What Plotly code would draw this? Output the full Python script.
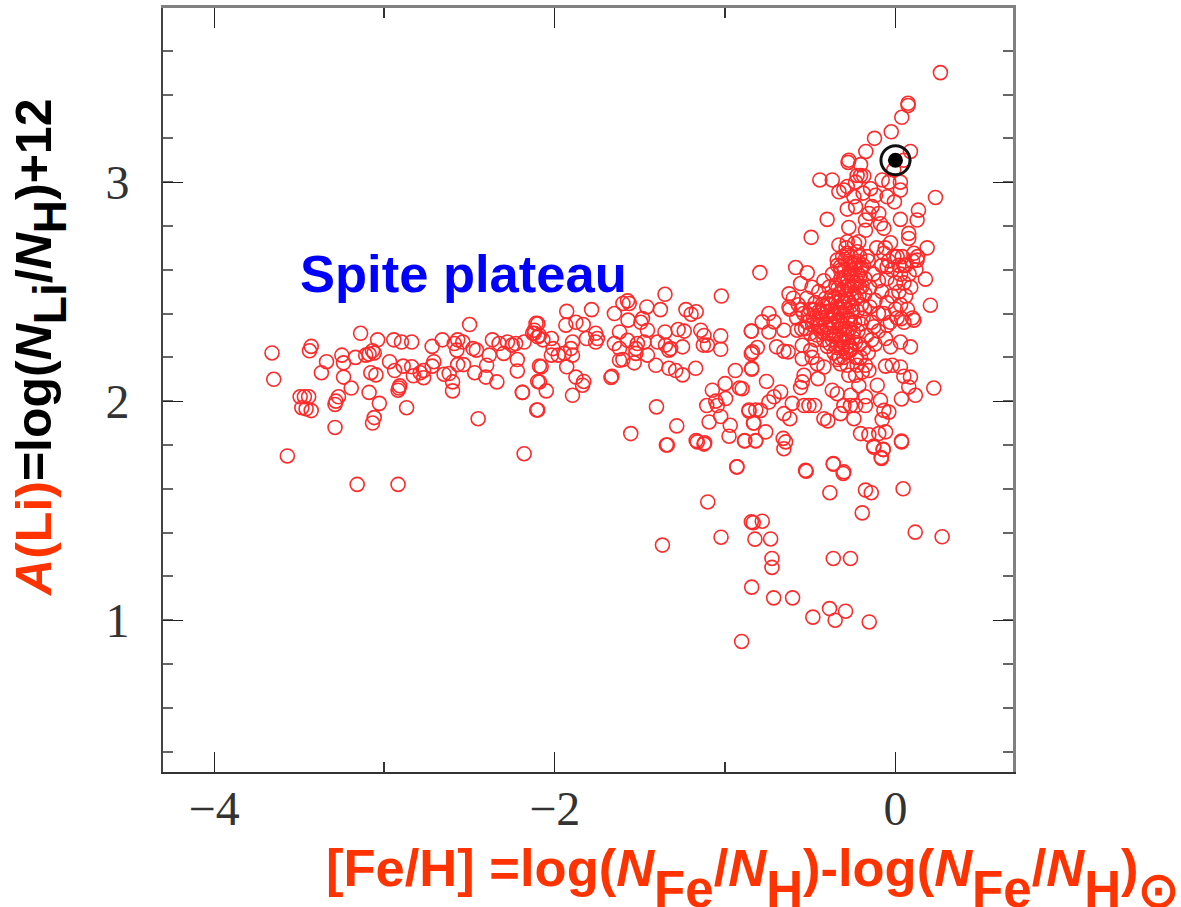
import plotly.graph_objects as go

# (Fe/H, A(Li)) readings per region of the diagram
plateau_far = [(-3.66,2.22),(-3.65,2.10),(-3.43,2.25),(-3.44,2.23),(-3.34,2.18),(-3.37,2.13),(-3.25,2.21),(-3.24,2.175),(-3.24,2.11),(-3.195,2.06),(-3.27,2.02),(-3.285,2.0),(-3.29,1.985),(-3.495,2.02),(-3.47,2.02),(-3.445,2.02),(-3.485,1.97),(-3.46,1.965),(-3.43,1.957),(-3.29,1.88),(-3.57,1.75),(-3.16,1.62),(-2.92,1.62),(-3.14,2.31),(-3.04,2.28),(-2.945,2.28),(-2.90,2.27),(-2.84,2.27),(-3.17,2.20),(-3.11,2.21),(-3.09,2.215),(-3.07,2.23),(-3.06,2.22),(-3.08,2.13),(-3.05,2.12),(-2.97,2.18),(-2.94,2.14),(-2.89,2.16),(-2.84,2.157),(-2.83,2.116),(-3.09,2.04),(-3.03,1.99),(-2.87,1.97),(-3.06,1.925),(-3.07,1.90),(-2.91,2.07),(-2.92,2.05),(-2.915,2.06)]
plateau_mid = [(-2.77,2.14),(-2.77,2.107),(-2.79,2.13),(-2.72,2.16),(-2.71,2.18),(-2.65,2.123),(-2.60,2.088),(-2.60,2.047),(-2.62,2.126),(-2.72,2.25),(-2.66,2.28),(-2.57,2.28),(-2.54,2.27),(-2.575,2.233),(-2.59,2.263),(-2.57,2.167),(-2.536,2.167),(-2.47,2.13),(-2.46,2.233),(-2.48,2.24),(-2.385,2.21),(-2.40,2.164),(-2.405,2.11),(-2.34,2.088),(-2.366,2.28),(-2.327,2.263),(-2.278,2.27),(-2.23,2.263),(-2.30,2.218),(-2.25,2.256),(-2.22,2.19),(-2.22,2.138),(-2.19,2.04),(-2.50,2.35),(-2.45,1.92),(-2.18,1.76),(-2.11,2.355),(-2.13,2.31),(-2.10,2.294),(-2.09,2.16),(-2.10,2.09),(-2.106,1.96),(-2.18,2.27),(-2.12,2.324)]
plateau_near = [(-2.10,2.354),(-2.12,2.31),(-2.09,2.30),(-2.07,2.28),(-2.02,2.286),(-2.01,2.24),(-2.02,2.21),(-1.98,2.21),(-1.945,2.218),(-1.896,2.27),(-1.906,2.24),(-1.896,2.21),(-1.93,2.157),(-2.08,2.157),(-2.09,2.088),(-2.05,2.047),(-2.19,2.04),(-2.10,1.96),(-1.876,2.11),(-1.83,2.09),(-1.837,2.073),(-1.896,2.027),(-1.93,2.41),(-1.784,2.418),(-1.935,2.347),(-1.876,2.36),(-1.833,2.35),(-1.814,2.286),(-1.76,2.31),(-1.75,2.286),(-1.76,2.27),(-1.65,2.40),(-1.60,2.446),(-1.573,2.458),(-1.563,2.446),(-1.57,2.37),(-1.46,2.43),(-1.485,2.377),(-1.495,2.36),(-1.38,2.418),(-1.353,2.488),(-1.62,2.316),(-1.65,2.263),(-1.62,2.24),(-1.515,2.263),(-1.524,2.24),(-1.476,2.27),(-1.456,2.324),(-1.573,2.278),(-1.60,2.19),(-1.62,2.187),(-1.534,2.175),(-1.524,2.218),(-1.456,2.21),(-1.407,2.164),(-1.397,2.27),(-1.353,2.316),(-1.35,2.256),(-1.33,2.233),(-1.32,2.24),(-1.25,2.248),(-1.276,2.327),(-1.24,2.32),(-1.33,2.15),(-1.29,2.14),(-1.25,2.12),(-1.173,2.15),(-1.665,2.114),(-1.67,2.108),(-1.23,2.418),(-1.20,2.397),(-1.17,2.408),(-1.143,2.324),(-1.124,2.30),(-1.128,2.256),(-1.104,2.256),(-1.026,2.298),(-1.026,2.237),(-1.022,2.48),(-1.403,1.974),(-1.284,1.887),(-1.554,1.852),(-1.345,1.80),(-1.17,1.82),(-1.12,1.81)]
gap_stars = [(-0.94,2.14),(-0.915,2.06),(-0.844,2.15),(-0.846,2.32),(-0.84,2.225),(-1.0,2.08),(-1.075,2.05),(-1.108,1.98),(-1.055,2.0),(-0.997,2.012),(-1.046,1.98),(-1.026,1.93),(-1.094,1.905),(-0.97,1.89),(-0.977,1.84),(-0.885,1.82),(-0.82,1.82),(-0.93,1.70),(-0.86,1.96),(-0.82,1.96),(-0.834,1.90)]
top_stars = [(0.264,3.5),(0.074,3.36),(0.074,3.35),(0.037,3.296),(-0.025,3.23),(-0.123,3.2),(-0.174,3.14),(0.088,3.14),(-0.274,3.10),(-0.278,3.09),(-0.444,3.01),(-0.371,3.01),(-0.205,3.08),(-0.078,3.01),(0.235,2.93),(-0.332,2.956),(-0.283,2.98),(-0.234,3.0),(-0.205,3.03),(-0.244,2.933),(-0.283,2.877),(-0.401,2.83),(-0.495,2.748),(0.029,2.964),(-0.049,2.933),(-0.006,2.91),(-0.117,2.94),(0.135,2.872),(0.127,2.827),(0.029,2.83),(-0.098,2.857),(-0.156,2.857),(-0.176,2.827),(-0.274,2.793),(-0.068,2.789),(0.078,2.766),(0.078,2.743),(-0.029,2.723),(0.186,2.70),(-0.176,2.78),(-0.332,2.713),(-0.283,2.728),(-0.215,2.728),(-0.068,2.675),(0.01,2.66),(0.108,2.675),(0.127,2.644),(-0.342,2.644),(-0.283,2.675),(-0.225,2.682),(-0.166,2.66),(-0.323,2.614),(-0.244,2.63),(-0.049,2.614),(0.049,2.62),(-0.205,2.60),(0.049,3.10),(-0.01,3.055),(-0.039,3.0),(0.029,3.0),(-0.225,3.03),(-0.186,3.028),(-0.303,2.964),(-0.234,2.888),(-0.137,2.888),(-0.088,2.81),(-0.146,2.97),(-0.19,2.95)]
disk_edge = [(-0.796,2.587),(-0.586,2.61),(-0.518,2.586),(-0.557,2.537),(-0.625,2.49),(-0.625,2.43),(-0.743,2.40),(-0.846,2.32),(-0.782,2.362),(-0.713,2.362),(-0.743,2.316),(-0.655,2.324),(-0.577,2.324),(-0.811,2.245),(-0.846,2.217),(-0.844,2.146),(-0.698,2.248),(-0.655,2.228),(-0.63,2.225),(-0.547,2.255),(-0.547,2.194),(-0.489,2.20),(-0.498,2.232),(-0.459,2.17),(-0.42,2.156),(-0.537,2.118),(-0.547,2.088),(-0.557,2.062),(-0.455,2.103),(-0.757,2.09),(-0.90,2.057),(-0.674,2.042),(-0.713,2.02),(-0.606,1.99),(-0.537,1.98),(-0.508,1.98),(-0.475,1.98),(-0.743,1.996),(-0.792,1.958),(-0.86,1.954),(-0.831,1.90),(-0.762,1.86),(-0.821,1.818),(-0.886,1.818),(-0.655,1.943),(-0.62,1.92),(-0.659,1.83),(-0.645,1.814),(-0.655,1.783),(-0.528,1.684),(-0.365,1.715),(-0.303,1.677),(-0.42,1.92),(-0.397,1.91),(-0.371,2.05),(-0.342,2.034),(-0.323,1.943),(-0.303,1.98),(-0.264,1.98),(-0.264,2.027),(-0.234,1.98),(-0.244,1.92),(-0.215,2.07),(-0.274,2.118),(-0.176,2.02),(-0.176,1.98),(-0.205,1.852),(-0.156,1.847),(-0.107,2.073),(-0.088,2.004),(-0.068,1.958),(-0.039,1.95),(-0.078,1.916),(-0.058,1.86),(-0.098,1.852),(-0.127,1.79),(-0.072,1.78),(-0.082,1.738),(0.035,1.818),(0.035,2.01),(0.117,2.027),(0.078,2.065),(0.225,2.06),(0.088,2.11),(0.049,2.114),(0.029,2.156),(-0.019,2.164),(-0.058,2.16),(0.088,2.248),(0.029,2.27),(-0.029,2.248),(-0.058,2.286),(0.108,2.37),(0.035,2.377),(-0.049,2.346),(-0.127,2.34),(0.205,2.438),(0.176,2.557),(-0.186,2.24),(-0.176,2.164),(-0.225,2.164),(-0.156,2.14),(-0.234,2.118),(-0.195,2.133),(-0.283,2.164),(-0.323,2.17),(-0.342,2.19),(-0.205,2.20),(-0.264,2.232),(-0.313,2.248),(-0.303,2.20)]
disk_core_metal_poor = [(-0.62,2.42),(-0.6,2.47),(-0.58,2.38),(-0.57,2.44),(-0.55,2.33),(-0.54,2.40),(-0.52,2.47),(-0.52,2.36),(-0.5,2.42),(-0.5,2.31),(-0.49,2.52),(-0.48,2.38),(-0.47,2.45),(-0.47,2.28),(-0.46,2.35),(-0.45,2.41),(-0.45,2.50),(-0.44,2.32),(-0.43,2.44),(-0.43,2.38),(-0.42,2.28),(-0.42,2.55),(-0.41,2.47),(-0.41,2.35),(-0.4,2.41),(-0.4,2.25),(-0.39,2.52),(-0.39,2.31),(-0.38,2.44),(-0.38,2.37),(-0.37,2.58),(-0.37,2.48),(-0.37,2.28),(-0.36,2.40),(-0.36,2.34),(-0.36,2.22),(-0.35,2.53),(-0.35,2.45),(-0.35,2.3),(-0.34,2.62),(-0.34,2.37),(-0.34,2.26),(-0.33,2.49),(-0.33,2.42),(-0.33,2.33),(-0.33,2.2),(-0.32,2.56),(-0.32,2.46),(-0.32,2.28),(-0.31,2.66),(-0.31,2.39),(-0.31,2.35),(-0.31,2.24),(-0.3,2.6),(-0.3,2.52),(-0.3,2.43),(-0.3,2.3),(-0.29,2.7),(-0.29,2.48),(-0.29,2.22),(-0.28,2.63),(-0.28,2.55),(-0.28,2.38),(-0.28,2.27),(-0.27,2.45),(-0.27,2.33),(-0.26,2.66),(-0.26,2.58),(-0.26,2.51),(-0.26,2.24),(-0.25,2.41),(-0.25,2.29),(-0.24,2.72),(-0.24,2.62),(-0.24,2.54),(-0.24,2.36),(-0.23,2.47),(-0.23,2.2),(-0.22,2.58),(-0.22,2.32),(-0.21,2.66),(-0.21,2.52),(-0.21,2.26),(-0.2,2.44),(-0.2,2.61),(-0.19,2.38),(-0.18,2.56),(-0.18,2.49),(-0.17,2.3),(-0.16,2.64),(-0.15,2.43),(-0.15,2.52),(-0.14,2.36),(-0.13,2.58),(-0.12,2.46),(-0.11,2.7),(-0.1,2.4),(-0.1,2.55)]
disk_core_dense = [(-0.445,2.345),(-0.438,2.405),(-0.425,2.312),(-0.418,2.432),(-0.405,2.385),(-0.398,2.335),(-0.392,2.445),(-0.385,2.262),(-0.376,2.412),(-0.372,2.352),(-0.365,2.298),(-0.358,2.472),(-0.352,2.388),(-0.346,2.245),(-0.342,2.425),(-0.338,2.515),(-0.332,2.288),(-0.326,2.362),(-0.322,2.598),(-0.318,2.405),(-0.314,2.508),(-0.308,2.268),(-0.305,2.448),(-0.302,2.565),(-0.298,2.332),(-0.294,2.648),(-0.288,2.415),(-0.284,2.305),(-0.282,2.525),(-0.278,2.462),(-0.272,2.585),(-0.268,2.252),(-0.265,2.372),(-0.262,2.628),(-0.256,2.438),(-0.252,2.545),(-0.248,2.315),(-0.244,2.488),(-0.238,2.605),(-0.235,2.268),(-0.228,2.552),(-0.224,2.412),(-0.218,2.638),(-0.214,2.482),(-0.208,2.572),(-0.202,2.352),(-0.196,2.525),(-0.188,2.618),(-0.182,2.422),(-0.552,2.418),(-0.528,2.332),(-0.512,2.392),(-0.486,2.348),(-0.478,2.418),(-0.462,2.302),(-0.455,2.372)]
disk_core_metal_rich = [(-0.08,2.62),(-0.08,2.5),(-0.07,2.4),(-0.06,2.7),(-0.05,2.56),(-0.05,2.45),(-0.04,2.64),(-0.03,2.36),(-0.02,2.6),(-0.02,2.48),(-0.01,2.66),(0,2.54),(0,2.42),(0.01,2.38),(0.02,2.62),(0.02,2.5),(0.03,2.58),(0.03,2.44),(0.04,2.66),(0.05,2.36),(0.05,2.54),(0.06,2.48),(0.06,2.62),(0.07,2.42),(0.08,2.58),(0.09,2.52),(0.1,2.64),(0.1,2.38),(0.12,2.6),(0.13,2.66),(-0.14,2.28),(-0.12,2.26),(-0.1,2.32),(-0.16,2.22)]
depleted_stars = [(-1.339,1.80),(-1.163,1.814),(-1.124,1.804),(-0.932,1.70),(-0.524,1.68),(-0.365,1.712),(-0.307,1.67),(-0.385,1.582),(-0.176,1.594),(-0.142,1.582),(0.045,1.60),(-0.195,1.49),(-0.084,1.743),(-0.072,1.779),(-0.127,1.795),(0.036,1.814),(-1.102,1.54),(-0.846,1.449),(-0.835,1.445),(-0.782,1.452),(-1.024,1.379),(-0.825,1.37),(-0.733,1.371),(-1.368,1.343),(-0.725,1.282),(-0.725,1.241),(-0.365,1.282),(-0.264,1.282),(0.116,1.402),(0.274,1.381),(-0.844,1.151),(-0.715,1.102),(-0.604,1.102),(-0.387,1.053),(-0.485,1.014),(-0.293,1.041),(-0.354,1.0),(-0.154,0.992),(-0.903,0.903)]
sun_feh = [0]
sun_ali = [3.1]

x_ticks = [-4, -2, 0]
x_tick_labels = ["\u22124", "\u22122", "0"]
y_ticks = [1, 2, 3]
y_tick_labels = ["1", "2", "3"]
x_range = [-4.3, 0.69]
y_range = [0.307, 3.795]

stars = (plateau_far + plateau_mid + plateau_near + gap_stars + top_stars + disk_edge
         + disk_core_metal_poor + disk_core_dense + disk_core_metal_rich + depleted_stars)
feh, ali = zip(*stars)

ORANGE = "#FF3300"
BF = dict(family="Liberation Sans")
RED = "#ff2a2a"

fig = go.Figure()
fig.add_trace(go.Scatter(x=feh, y=ali, mode="markers", hoverinfo="skip",
                         marker=dict(symbol="circle-open", size=14, color=RED, line=dict(width=1.6))))
fig.add_trace(go.Scatter(x=sun_feh, y=sun_ali, xaxis="x2", yaxis="y2", mode="markers", hoverinfo="skip",
                         marker=dict(symbol="circle-open", size=29, color="#111111", line=dict(width=3))))
fig.add_trace(go.Scatter(x=sun_feh, y=sun_ali, xaxis="x2", yaxis="y2", mode="markers", hoverinfo="skip",
                         marker=dict(symbol="circle", size=15, color="#000000")))

tickfont = dict(family="Liberation Serif", size=48, color="#333333")
common_x = dict(range=x_range, tickmode="array", tickvals=x_ticks, ticks="inside", ticklen=20, showgrid=False, zeroline=False,
                minor=dict(tickmode="array", tickvals=[-3, -1], ticks="inside", ticklen=10, tickwidth=1.5, tickcolor="#333333", showgrid=False))
common_y = dict(range=y_range, tickmode="array", tickvals=y_ticks, ticks="inside", ticklen=20, showgrid=False, zeroline=False,
                minor=dict(tickmode="linear", tick0=0.2, dtick=0.2, ticks="inside", ticklen=10, tickwidth=2.2, tickcolor="#666666", showgrid=False))

W = 1181; H = 907
L = 162.5; R = 1013.5; T = 7.5; B = 772
fig.update_layout(
    width=W, height=H, autosize=False, showlegend=False,
    paper_bgcolor="white", plot_bgcolor="white",
    margin=dict(l=L, r=W - R, t=T, b=H - B, pad=0),
    xaxis=dict(**common_x, ticktext=x_tick_labels, tickfont=tickfont, tickcolor="#222222", tickwidth=1.4,
               showline=True, linecolor="#333333", linewidth=2, ticklabelstandoff=-7),
    yaxis=dict(**common_y, ticktext=y_tick_labels, tickfont=tickfont, tickcolor="#222222", tickwidth=1.4,
               showline=True, linecolor="#444444", linewidth=2, ticklabelstandoff=22),
    xaxis2=dict(**common_x, overlaying="x", anchor="y2", side="top", showticklabels=False, tickcolor="#222222", tickwidth=1.4,
                showline=True, linecolor="#808080", linewidth=3),
    yaxis2=dict(**common_y, overlaying="y", anchor="x2", side="right", showticklabels=False, tickcolor="#222222", tickwidth=1.4,
                showline=True, linecolor="#808080", linewidth=3),
)

def px_x(p): return (p - L) / (R - L)
def px_y(p): return (B - p) / (B - T)

def m(t, s):  # main-size text
    return f'<span style="font-size:{s}px">{t}</span>'
def s_(t, s):  # subscript-size text
    return f'<sub><span style="font-size:{s}px">{t}</span></sub>'

ms, ss = 52.5, 51
xlabel = (m("[Fe/H] =log(<i>N</i>", ms) + s_("Fe", ss) + m("/<i>N</i>", ms) + s_("H", ss) + m(")-log(<i>N</i>", ms)
          + s_("Fe", ss) + m("/<i>N</i>", ms) + s_("H", ss) + m(")", ms) + s_("\u2299", 49))
fig.add_annotation(xref="paper", yref="paper", x=px_x(324), y=px_y(878), xanchor="left", yanchor="middle", showarrow=False,
                   text=xlabel, font=dict(**BF, size=100, color=ORANGE, weight="bold"))

ms2, ss2 = 50, 46
ylabel = (f'<span style="font-size:{ms2}px;color:{ORANGE}"><i>A</i>(Li)</span>' + m("=log(<i>N</i>", ms2) + s_("Li", ss2)
          + m("/<i>N</i>", ms2) + s_("H", ss2) + m(")+12", ms2))
fig.add_annotation(xref="paper", yref="paper", x=px_x(41), y=px_y(348), xanchor="center", yanchor="middle", showarrow=False,
                   textangle=-90, text=ylabel, font=dict(**BF, size=71, color="#000000", weight="bold"))

fig.add_annotation(xref="paper", yref="paper", x=px_x(298), y=px_y(273), xanchor="left", yanchor="middle", showarrow=False,
                   text="Spite plateau", font=dict(**BF, size=52.5, color="#0000FF", weight="bold"))

fig.write_html("out.html", config={"displayModeBar": False},
               post_script="document.body.style.margin='0';document.body.style.overflow='hidden';")
